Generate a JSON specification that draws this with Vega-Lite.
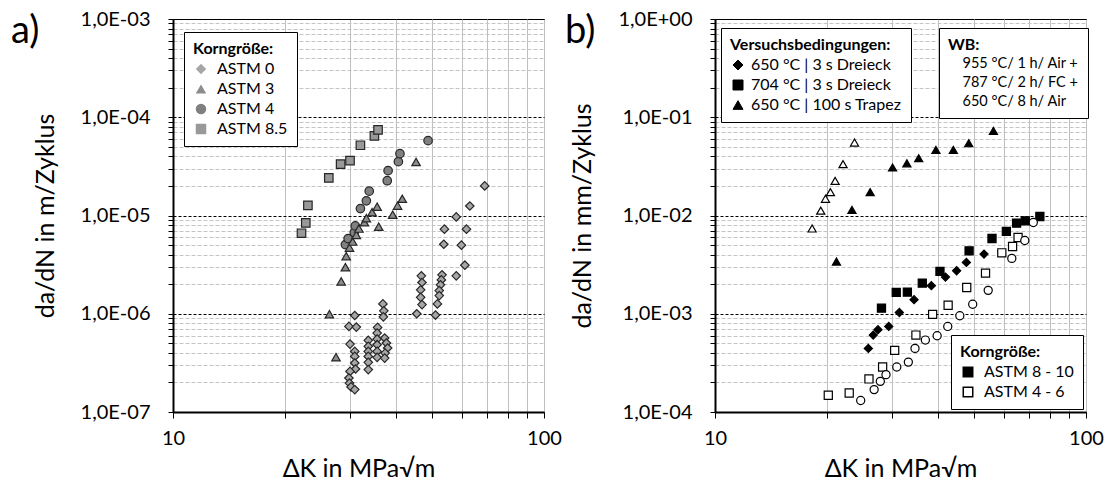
{
  "$schema": "https://vega.github.io/schema/vega-lite/v6.json",
  "background": "white",
  "padding": {"left": 10, "top": 8, "right": 5, "bottom": 5},
  "spacing": 2,
  "resolve": {"scale": {"shape": "independent", "fill": "independent", "color": "independent"}, "legend": {"shape": "independent", "fill": "independent", "color": "independent"}},
  "config": {
    "font": "Lato",
    "view": {"stroke": "black", "strokeWidth": 1},
    "axis": {"labelFont": "Lato", "titleFont": "Lato", "labelFontSize": 20, "titleFontSize": 25, "titleFontWeight": "normal", "labelColor": "black", "titleColor": "black", "domainColor": "black", "domainWidth": 2, "tickColor": "black", "labelOverlap": false, "labelFlush": false, "labelBound": false},
    "legend": {"labelFont": "Lato", "titleFont": "Lato", "labelFontSize": 16, "titleFontSize": 16, "titleFontWeight": "bold", "labelColor": "black", "titleColor": "black", "strokeColor": "black", "fillColor": "white", "padding": 9, "rowPadding": 4, "titlePadding": 4, "labelOffset": 8},
    "title": {"font": "Lato", "fontSize": 38, "fontWeight": "normal", "color": "black"}
  },
  "datasets": {
    "a": [
      {"dK": 22.2, "dadN": 6.6e-6, "Korn": "ASTM 8.5"},
      {"dK": 22.8, "dadN": 8.4e-6, "Korn": "ASTM 8.5"},
      {"dK": 23.1, "dadN": 1.27e-5, "Korn": "ASTM 8.5"},
      {"dK": 26.3, "dadN": 2.41e-5, "Korn": "ASTM 8.5"},
      {"dK": 28.3, "dadN": 3.33e-5, "Korn": "ASTM 8.5"},
      {"dK": 30.0, "dadN": 3.62e-5, "Korn": "ASTM 8.5"},
      {"dK": 32.0, "dadN": 5.19e-5, "Korn": "ASTM 8.5"},
      {"dK": 34.9, "dadN": 6.46e-5, "Korn": "ASTM 8.5"},
      {"dK": 35.7, "dadN": 7.43e-5, "Korn": "ASTM 8.5"},
      {"dK": 29.15, "dadN": 5.06e-6, "Korn": "ASTM 4"},
      {"dK": 29.65, "dadN": 5.82e-6, "Korn": "ASTM 4"},
      {"dK": 30.8, "dadN": 6.7e-6, "Korn": "ASTM 4"},
      {"dK": 31.0, "dadN": 7.83e-6, "Korn": "ASTM 4"},
      {"dK": 32.0, "dadN": 1.175e-5, "Korn": "ASTM 4"},
      {"dK": 33.2, "dadN": 1.41e-5, "Korn": "ASTM 4"},
      {"dK": 33.8, "dadN": 1.77e-5, "Korn": "ASTM 4"},
      {"dK": 37.8, "dadN": 2.26e-5, "Korn": "ASTM 4"},
      {"dK": 38.0, "dadN": 2.86e-5, "Korn": "ASTM 4"},
      {"dK": 40.5, "dadN": 3.53e-5, "Korn": "ASTM 4"},
      {"dK": 40.9, "dadN": 4.26e-5, "Korn": "ASTM 4"},
      {"dK": 48.7, "dadN": 5.78e-5, "Korn": "ASTM 4"},
      {"dK": 26.4, "dadN": 9.9e-7, "Korn": "ASTM 3"},
      {"dK": 27.5, "dadN": 3.61e-7, "Korn": "ASTM 3"},
      {"dK": 28.4, "dadN": 2.13e-6, "Korn": "ASTM 3"},
      {"dK": 29.15, "dadN": 2.98e-6, "Korn": "ASTM 3"},
      {"dK": 29.3, "dadN": 3.86e-6, "Korn": "ASTM 3"},
      {"dK": 29.9, "dadN": 4.71e-6, "Korn": "ASTM 3"},
      {"dK": 30.5, "dadN": 5.43e-6, "Korn": "ASTM 3"},
      {"dK": 31.2, "dadN": 6.35e-6, "Korn": "ASTM 3"},
      {"dK": 31.7, "dadN": 7.36e-6, "Korn": "ASTM 3"},
      {"dK": 32.8, "dadN": 8.55e-6, "Korn": "ASTM 3"},
      {"dK": 33.2, "dadN": 9.38e-6, "Korn": "ASTM 3"},
      {"dK": 34.4, "dadN": 1.08e-5, "Korn": "ASTM 3"},
      {"dK": 35.5, "dadN": 1.23e-5, "Korn": "ASTM 3"},
      {"dK": 35.85, "dadN": 7.7e-6, "Korn": "ASTM 3"},
      {"dK": 39.1, "dadN": 1.02e-5, "Korn": "ASTM 3"},
      {"dK": 40.3, "dadN": 1.26e-5, "Korn": "ASTM 3"},
      {"dK": 41.5, "dadN": 1.48e-5, "Korn": "ASTM 3"},
      {"dK": 45.2, "dadN": 3.51e-5, "Korn": "ASTM 3"},
      {"dK": 30.9, "dadN": 9.6e-7, "Korn": "ASTM 0"},
      {"dK": 29.8, "dadN": 7.43e-7, "Korn": "ASTM 0"},
      {"dK": 31.2, "dadN": 7.32e-7, "Korn": "ASTM 0"},
      {"dK": 30.0, "dadN": 4.91e-7, "Korn": "ASTM 0"},
      {"dK": 30.9, "dadN": 4.14e-7, "Korn": "ASTM 0"},
      {"dK": 30.9, "dadN": 3.68e-7, "Korn": "ASTM 0"},
      {"dK": 30.9, "dadN": 3.15e-7, "Korn": "ASTM 0"},
      {"dK": 31.05, "dadN": 2.74e-7, "Korn": "ASTM 0"},
      {"dK": 30.0, "dadN": 2.59e-7, "Korn": "ASTM 0"},
      {"dK": 29.8, "dadN": 2.22e-7, "Korn": "ASTM 0"},
      {"dK": 29.9, "dadN": 1.97e-7, "Korn": "ASTM 0"},
      {"dK": 30.2, "dadN": 1.8e-7, "Korn": "ASTM 0"},
      {"dK": 30.9, "dadN": 1.69e-7, "Korn": "ASTM 0"},
      {"dK": 33.6, "dadN": 5.36e-7, "Korn": "ASTM 0"},
      {"dK": 33.6, "dadN": 4.66e-7, "Korn": "ASTM 0"},
      {"dK": 33.6, "dadN": 4.14e-7, "Korn": "ASTM 0"},
      {"dK": 33.6, "dadN": 3.68e-7, "Korn": "ASTM 0"},
      {"dK": 33.6, "dadN": 3.2e-7, "Korn": "ASTM 0"},
      {"dK": 33.6, "dadN": 2.7e-7, "Korn": "ASTM 0"},
      {"dK": 35.6, "dadN": 7.26e-7, "Korn": "ASTM 0"},
      {"dK": 35.5, "dadN": 6.36e-7, "Korn": "ASTM 0"},
      {"dK": 35.5, "dadN": 5.52e-7, "Korn": "ASTM 0"},
      {"dK": 35.5, "dadN": 4.84e-7, "Korn": "ASTM 0"},
      {"dK": 35.5, "dadN": 4.14e-7, "Korn": "ASTM 0"},
      {"dK": 35.5, "dadN": 3.6e-7, "Korn": "ASTM 0"},
      {"dK": 36.8, "dadN": 1.26e-6, "Korn": "ASTM 0"},
      {"dK": 37.0, "dadN": 1.07e-6, "Korn": "ASTM 0"},
      {"dK": 36.9, "dadN": 9.3e-7, "Korn": "ASTM 0"},
      {"dK": 37.2, "dadN": 5.66e-7, "Korn": "ASTM 0"},
      {"dK": 37.6, "dadN": 5.04e-7, "Korn": "ASTM 0"},
      {"dK": 37.9, "dadN": 4.48e-7, "Korn": "ASTM 0"},
      {"dK": 37.3, "dadN": 3.98e-7, "Korn": "ASTM 0"},
      {"dK": 37.2, "dadN": 3.54e-7, "Korn": "ASTM 0"},
      {"dK": 46.7, "dadN": 2.43e-6, "Korn": "ASTM 0"},
      {"dK": 46.9, "dadN": 2.08e-6, "Korn": "ASTM 0"},
      {"dK": 46.5, "dadN": 1.75e-6, "Korn": "ASTM 0"},
      {"dK": 46.5, "dadN": 1.47e-6, "Korn": "ASTM 0"},
      {"dK": 46.9, "dadN": 1.24e-6, "Korn": "ASTM 0"},
      {"dK": 45.4, "dadN": 1.0e-6, "Korn": "ASTM 0"},
      {"dK": 53.1, "dadN": 2.49e-6, "Korn": "ASTM 0"},
      {"dK": 52.9, "dadN": 2.21e-6, "Korn": "ASTM 0"},
      {"dK": 52.6, "dadN": 1.97e-6, "Korn": "ASTM 0"},
      {"dK": 52.2, "dadN": 1.72e-6, "Korn": "ASTM 0"},
      {"dK": 52.2, "dadN": 1.53e-6, "Korn": "ASTM 0"},
      {"dK": 51.6, "dadN": 1.26e-6, "Korn": "ASTM 0"},
      {"dK": 51.0, "dadN": 9.7e-7, "Korn": "ASTM 0"},
      {"dK": 69.2, "dadN": 2.0e-5, "Korn": "ASTM 0"},
      {"dK": 63.1, "dadN": 1.25e-5, "Korn": "ASTM 0"},
      {"dK": 58.0, "dadN": 9.68e-6, "Korn": "ASTM 0"},
      {"dK": 53.9, "dadN": 7.26e-6, "Korn": "ASTM 0"},
      {"dK": 61.8, "dadN": 7.26e-6, "Korn": "ASTM 0"},
      {"dK": 53.7, "dadN": 5.1e-6, "Korn": "ASTM 0"},
      {"dK": 59.9, "dadN": 4.99e-6, "Korn": "ASTM 0"},
      {"dK": 61.2, "dadN": 3.12e-6, "Korn": "ASTM 0"},
      {"dK": 58.0, "dadN": 2.43e-6, "Korn": "ASTM 0"}
    ],
    "b": [
      {"dK": 21.25, "dadN": 3.4e-3, "Symbol": "Dreieck", "Korn": "ASTM 8 - 10"},
      {"dK": 23.4, "dadN": 1.14e-2, "Symbol": "Dreieck", "Korn": "ASTM 8 - 10"},
      {"dK": 26.2, "dadN": 1.73e-2, "Symbol": "Dreieck", "Korn": "ASTM 8 - 10"},
      {"dK": 30.1, "dadN": 3.08e-2, "Symbol": "Dreieck", "Korn": "ASTM 8 - 10"},
      {"dK": 32.9, "dadN": 3.4e-2, "Symbol": "Dreieck", "Korn": "ASTM 8 - 10"},
      {"dK": 35.4, "dadN": 3.83e-2, "Symbol": "Dreieck", "Korn": "ASTM 8 - 10"},
      {"dK": 39.4, "dadN": 4.65e-2, "Symbol": "Dreieck", "Korn": "ASTM 8 - 10"},
      {"dK": 43.9, "dadN": 4.65e-2, "Symbol": "Dreieck", "Korn": "ASTM 8 - 10"},
      {"dK": 48.3, "dadN": 5.44e-2, "Symbol": "Dreieck", "Korn": "ASTM 8 - 10"},
      {"dK": 56.3, "dadN": 7.27e-2, "Symbol": "Dreieck", "Korn": "ASTM 8 - 10"},
      {"dK": 18.27, "dadN": 7.38e-3, "Symbol": "Dreieck", "Korn": "ASTM 4 - 6"},
      {"dK": 19.28, "dadN": 1.12e-2, "Symbol": "Dreieck", "Korn": "ASTM 4 - 6"},
      {"dK": 19.85, "dadN": 1.48e-2, "Symbol": "Dreieck", "Korn": "ASTM 4 - 6"},
      {"dK": 20.47, "dadN": 1.73e-2, "Symbol": "Dreieck", "Korn": "ASTM 4 - 6"},
      {"dK": 21.08, "dadN": 2.25e-2, "Symbol": "Dreieck", "Korn": "ASTM 4 - 6"},
      {"dK": 22.14, "dadN": 3.33e-2, "Symbol": "Dreieck", "Korn": "ASTM 4 - 6"},
      {"dK": 23.77, "dadN": 5.53e-2, "Symbol": "Dreieck", "Korn": "ASTM 4 - 6"},
      {"dK": 28.1, "dadN": 1.14e-3, "Symbol": "Quadrat", "Korn": "ASTM 8 - 10"},
      {"dK": 30.8, "dadN": 1.65e-3, "Symbol": "Quadrat", "Korn": "ASTM 8 - 10"},
      {"dK": 33.0, "dadN": 1.66e-3, "Symbol": "Quadrat", "Korn": "ASTM 8 - 10"},
      {"dK": 36.2, "dadN": 2.05e-3, "Symbol": "Quadrat", "Korn": "ASTM 8 - 10"},
      {"dK": 40.4, "dadN": 2.7e-3, "Symbol": "Quadrat", "Korn": "ASTM 8 - 10"},
      {"dK": 48.4, "dadN": 4.37e-3, "Symbol": "Quadrat", "Korn": "ASTM 8 - 10"},
      {"dK": 55.8, "dadN": 5.83e-3, "Symbol": "Quadrat", "Korn": "ASTM 8 - 10"},
      {"dK": 61.0, "dadN": 6.88e-3, "Symbol": "Quadrat", "Korn": "ASTM 8 - 10"},
      {"dK": 65.0, "dadN": 8.36e-3, "Symbol": "Quadrat", "Korn": "ASTM 8 - 10"},
      {"dK": 68.6, "dadN": 8.83e-3, "Symbol": "Quadrat", "Korn": "ASTM 8 - 10"},
      {"dK": 75.1, "dadN": 9.77e-3, "Symbol": "Quadrat", "Korn": "ASTM 8 - 10"},
      {"dK": 25.9, "dadN": 4.44e-4, "Symbol": "Raute", "Korn": "ASTM 8 - 10"},
      {"dK": 26.7, "dadN": 6.07e-4, "Symbol": "Raute", "Korn": "ASTM 8 - 10"},
      {"dK": 27.5, "dadN": 6.88e-4, "Symbol": "Raute", "Korn": "ASTM 8 - 10"},
      {"dK": 29.4, "dadN": 7.43e-4, "Symbol": "Raute", "Korn": "ASTM 8 - 10"},
      {"dK": 31.4, "dadN": 1.03e-3, "Symbol": "Raute", "Korn": "ASTM 8 - 10"},
      {"dK": 34.4, "dadN": 1.39e-3, "Symbol": "Raute", "Korn": "ASTM 8 - 10"},
      {"dK": 38.3, "dadN": 1.93e-3, "Symbol": "Raute", "Korn": "ASTM 8 - 10"},
      {"dK": 41.8, "dadN": 2.36e-3, "Symbol": "Raute", "Korn": "ASTM 8 - 10"},
      {"dK": 44.8, "dadN": 2.74e-3, "Symbol": "Raute", "Korn": "ASTM 8 - 10"},
      {"dK": 47.6, "dadN": 3.33e-3, "Symbol": "Raute", "Korn": "ASTM 8 - 10"},
      {"dK": 53.1, "dadN": 4.05e-3, "Symbol": "Raute", "Korn": "ASTM 8 - 10"},
      {"dK": 20.2, "dadN": 1.48e-4, "Symbol": "Quadrat", "Korn": "ASTM 4 - 6"},
      {"dK": 23.0, "dadN": 1.56e-4, "Symbol": "Quadrat", "Korn": "ASTM 4 - 6"},
      {"dK": 26.0, "dadN": 2.17e-4, "Symbol": "Quadrat", "Korn": "ASTM 4 - 6"},
      {"dK": 28.3, "dadN": 2.87e-4, "Symbol": "Quadrat", "Korn": "ASTM 4 - 6"},
      {"dK": 30.5, "dadN": 4.24e-4, "Symbol": "Quadrat", "Korn": "ASTM 4 - 6"},
      {"dK": 34.8, "dadN": 6.07e-4, "Symbol": "Quadrat", "Korn": "ASTM 4 - 6"},
      {"dK": 38.6, "dadN": 9.85e-4, "Symbol": "Quadrat", "Korn": "ASTM 4 - 6"},
      {"dK": 42.5, "dadN": 1.22e-3, "Symbol": "Quadrat", "Korn": "ASTM 4 - 6"},
      {"dK": 47.7, "dadN": 1.85e-3, "Symbol": "Quadrat", "Korn": "ASTM 4 - 6"},
      {"dK": 53.6, "dadN": 2.59e-3, "Symbol": "Quadrat", "Korn": "ASTM 4 - 6"},
      {"dK": 59.3, "dadN": 4.17e-3, "Symbol": "Quadrat", "Korn": "ASTM 4 - 6"},
      {"dK": 63.4, "dadN": 4.84e-3, "Symbol": "Quadrat", "Korn": "ASTM 4 - 6"},
      {"dK": 65.6, "dadN": 5.97e-3, "Symbol": "Quadrat", "Korn": "ASTM 4 - 6"},
      {"dK": 24.7, "dadN": 1.31e-4, "Symbol": "Kreis", "Korn": "ASTM 4 - 6"},
      {"dK": 26.85, "dadN": 1.69e-4, "Symbol": "Kreis", "Korn": "ASTM 4 - 6"},
      {"dK": 27.9, "dadN": 2.05e-4, "Symbol": "Kreis", "Korn": "ASTM 4 - 6"},
      {"dK": 28.9, "dadN": 2.4e-4, "Symbol": "Kreis", "Korn": "ASTM 4 - 6"},
      {"dK": 30.9, "dadN": 2.87e-4, "Symbol": "Kreis", "Korn": "ASTM 4 - 6"},
      {"dK": 33.2, "dadN": 3.22e-4, "Symbol": "Kreis", "Korn": "ASTM 4 - 6"},
      {"dK": 34.6, "dadN": 4.44e-4, "Symbol": "Kreis", "Korn": "ASTM 4 - 6"},
      {"dK": 36.9, "dadN": 5.4e-4, "Symbol": "Kreis", "Korn": "ASTM 4 - 6"},
      {"dK": 39.7, "dadN": 5.97e-4, "Symbol": "Kreis", "Korn": "ASTM 4 - 6"},
      {"dK": 42.4, "dadN": 7.43e-4, "Symbol": "Kreis", "Korn": "ASTM 4 - 6"},
      {"dK": 45.7, "dadN": 9.54e-4, "Symbol": "Kreis", "Korn": "ASTM 4 - 6"},
      {"dK": 49.5, "dadN": 1.25e-3, "Symbol": "Kreis", "Korn": "ASTM 4 - 6"},
      {"dK": 54.5, "dadN": 1.73e-3, "Symbol": "Kreis", "Korn": "ASTM 4 - 6"},
      {"dK": 63.1, "dadN": 3.66e-3, "Symbol": "Kreis", "Korn": "ASTM 4 - 6"},
      {"dK": 68.4, "dadN": 5.57e-3, "Symbol": "Kreis", "Korn": "ASTM 4 - 6"},
      {"dK": 72.1, "dadN": 8.49e-3, "Symbol": "Kreis", "Korn": "ASTM 4 - 6"}
    ],
    "wb": [
      {"WB": "955 °C/ 1 h/ Air +"},
      {"WB": "787 °C/ 2 h/ FC +"},
      {"WB": "650 °C/ 8 h/ Air"}
    ]
  },
  "hconcat": [
    {
      "width": 371,
      "height": 393,
      "title": {"text": "a)", "anchor": "start", "frame": "group", "dx": -162, "dy": 42, "offset": 0},
      "data": {"name": "a"},
      "mark": {"type": "point", "filled": true, "opacity": 1, "size": 72},
      "encoding": {
        "x": {"field": "dK", "type": "quantitative", "scale": {"type": "log", "domain": [10, 100], "nice": false},
          "axis": {"title": "ΔK in MPa√m", "values": [10, 20, 30, 40, 50, 60, 70, 80, 90, 100], "labelExpr": "datum.value == 10 || datum.value == 100 ? format(datum.value, 'd') : ''", "grid": true, "gridColor": "#bfbfbf", "gridWidth": 1, "tickSize": 6, "labelPadding": 10, "titlePadding": 8}},
        "y": {"field": "dadN", "type": "quantitative", "scale": {"type": "log", "domain": [1e-7, 1e-3], "nice": false},
          "axis": {"title": "da/dN in m/Zyklus", "values": [1e-7, 2e-7, 3e-7, 4e-7, 5e-7, 6e-7, 7e-7, 8e-7, 9e-7, 1e-6, 2e-6, 3e-6, 4e-6, 5e-6, 6e-6, 7e-6, 8e-6, 9e-6, 1e-5, 2e-5, 3e-5, 4e-5, 5e-5, 6e-5, 7e-5, 8e-5, 9e-5, 1e-4, 2e-4, 3e-4, 4e-4, 5e-4, 6e-4, 7e-4, 8e-4, 9e-4, 1e-3],
            "labelExpr": "abs(log(datum.value)/LN10 - round(log(datum.value)/LN10)) < 0.001 ? '1,0E' + (round(log(datum.value)/LN10) >= 0 ? '+' : '-') + '0' + abs(round(log(datum.value)/LN10)) : ''",
            "grid": true,
            "gridColor": {"condition": {"test": "abs(log(datum.value)/LN10 - round(log(datum.value)/LN10)) < 0.001", "value": "black"}, "value": "#c4c4c4"},
            "gridDash": {"condition": {"test": "abs(log(datum.value)/LN10 - round(log(datum.value)/LN10)) < 0.001", "value": [3, 2]}, "value": [4, 2]},
            "tickSize": 5, "labelPadding": 18, "titlePadding": 22}},
        "stroke": {"value": "#262626"},
        "strokeWidth": {"value": 1.2},
        "shape": {"field": "Korn", "type": "nominal", "scale": {"domain": ["ASTM 0", "ASTM 3", "ASTM 4", "ASTM 8.5"], "range": ["diamond", "triangle-up", "circle", "square"]},
          "legend": {"title": "Korngröße:", "orient": "none", "legendX": 11, "legendY": 13, "symbolSize": 110, "symbolStrokeColor": "#262626", "symbolStrokeWidth": 1.2}},
        "fill": {"field": "Korn", "type": "nominal", "scale": {"domain": ["ASTM 0", "ASTM 3", "ASTM 4", "ASTM 8.5"], "range": ["#a6a6a6", "#8c8c8c", "#808080", "#999999"]},
          "legend": {"title": "Korngröße:", "orient": "none", "legendX": 11, "legendY": 13, "symbolSize": 110, "symbolStrokeColor": "#262626", "symbolStrokeWidth": 1.2}}
      }
    },
    {
      "width": 371,
      "height": 393,
      "title": {"text": "b)", "anchor": "start", "frame": "group", "dx": -150, "dy": 42, "offset": 0},
      "resolve": {"scale": {"shape": "independent", "fill": "independent", "color": "independent"}},
      "layer": [
        {
          "data": {"name": "b"},
          "mark": {"type": "point", "filled": true, "opacity": 1, "stroke": "black", "strokeWidth": 1.2, "size": 66},
          "encoding": {
            "x": {"field": "dK", "type": "quantitative", "scale": {"type": "log", "domain": [10, 100], "nice": false},
              "axis": {"title": "ΔK in MPa√m", "values": [10, 20, 30, 40, 50, 60, 70, 80, 90, 100], "labelExpr": "datum.value == 10 || datum.value == 100 ? format(datum.value, 'd') : ''", "grid": true, "gridColor": "#bfbfbf", "gridWidth": 1, "tickSize": 6, "labelPadding": 10, "titlePadding": 8}},
            "y": {"field": "dadN", "type": "quantitative", "scale": {"type": "log", "domain": [1e-4, 1], "nice": false},
              "axis": {"title": "da/dN in mm/Zyklus", "values": [1e-4, 2e-4, 3e-4, 4e-4, 5e-4, 6e-4, 7e-4, 8e-4, 9e-4, 1e-3, 2e-3, 3e-3, 4e-3, 5e-3, 6e-3, 7e-3, 8e-3, 9e-3, 0.01, 0.02, 0.03, 0.04, 0.05, 0.06, 0.07, 0.08, 0.09, 0.1, 0.2, 0.3, 0.4, 0.5, 0.6, 0.7, 0.8, 0.9, 1],
                "labelExpr": "abs(log(datum.value)/LN10 - round(log(datum.value)/LN10)) < 0.001 ? '1,0E' + (round(log(datum.value)/LN10) >= 0 ? '+' : '-') + '0' + abs(round(log(datum.value)/LN10)) : ''",
                "grid": true,
                "gridColor": {"condition": {"test": "abs(log(datum.value)/LN10 - round(log(datum.value)/LN10)) < 0.001", "value": "black"}, "value": "#c4c4c4"},
                "gridDash": {"condition": {"test": "abs(log(datum.value)/LN10 - round(log(datum.value)/LN10)) < 0.001", "value": [3, 2]}, "value": [4, 2]},
                "tickSize": 5, "labelPadding": 18, "titlePadding": 22}},
            "shape": {"field": "Symbol", "type": "nominal", "scale": {"domain": ["Raute", "Quadrat", "Dreieck", "Kreis"], "range": ["diamond", "square", "triangle-up", "circle"]},
              "legend": {"title": "Versuchsbedingungen:", "values": ["Raute", "Quadrat", "Dreieck"], "labelExpr": "datum.value == 'Raute' ? '650 °C | 3 s Dreieck' : datum.value == 'Quadrat' ? '704 °C | 3 s Dreieck' : '650 °C | 100 s Trapez'", "orient": "none", "legendX": 6, "legendY": 9, "symbolSize": 100, "symbolFillColor": "black", "symbolStrokeColor": "black", "symbolStrokeWidth": 1, "labelOffset": 5}},
            "fill": {"field": "Korn", "type": "nominal", "scale": {"domain": ["ASTM 8 - 10", "ASTM 4 - 6"], "range": ["black", "white"]},
              "legend": {"title": "Korngröße:", "orient": "none", "legendX": 236, "legendY": 316, "symbolType": "square", "symbolSize": 90, "symbolStrokeColor": "black", "symbolStrokeWidth": 1.5}}
          }
        },
        {
          "data": {"name": "wb"},
          "mark": {"type": "point", "opacity": 0},
          "encoding": {
            "color": {"field": "WB", "type": "nominal", "scale": {"domain": ["955 °C/ 1 h/ Air +", "787 °C/ 2 h/ FC +", "650 °C/ 8 h/ Air"], "range": ["black", "black", "black"]},
              "legend": {"title": "WB:", "orient": "none", "legendX": 224, "legendY": 9, "labelFontSize": 14.5, "symbolSize": 0, "symbolStrokeWidth": 0, "symbolOpacity": 0, "labelOffset": 0}}
          }
        }
      ]
    }
  ]
}
